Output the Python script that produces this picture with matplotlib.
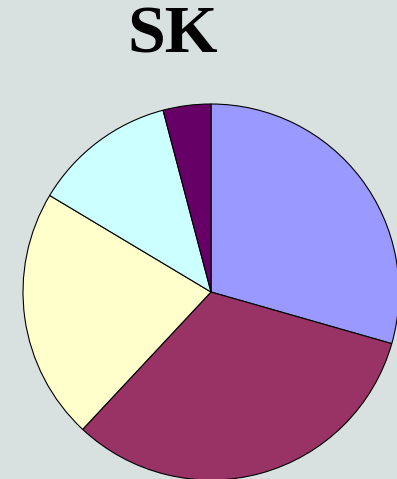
import matplotlib
matplotlib.use("Agg")
import matplotlib.pyplot as plt

# shares per category, clockwise from 12 o'clock
labels = ["A", "B", "C", "D", "E"]
shares = [29.4, 32.5, 21.6, 12.3, 4.1]
colors = ["#9999FF", "#993366", "#FFFFCC", "#CCFFFF", "#660066"]

bg = "#D9E1E0"
fig = plt.figure(figsize=(3.97, 4.79), dpi=100, facecolor=bg)
ax = fig.add_axes([0, 0, 1, 1])
ax.set_facecolor(bg)

ax.pie(shares, colors=colors, startangle=90, counterclock=False,
       center=(211, 187), radius=188,
       wedgeprops=dict(edgecolor="black", linewidth=0.8))
ax.set_xlim(0, 397)
ax.set_ylim(0, 479)
ax.set_aspect("auto")
ax.axis("off")

fig.text(173 / 397, 1 - 36 / 479, "SK", ha="center", va="center",
         fontsize=49, fontweight="bold", family="Liberation Serif")

fig.savefig("out.png", dpi=100, facecolor=bg)
